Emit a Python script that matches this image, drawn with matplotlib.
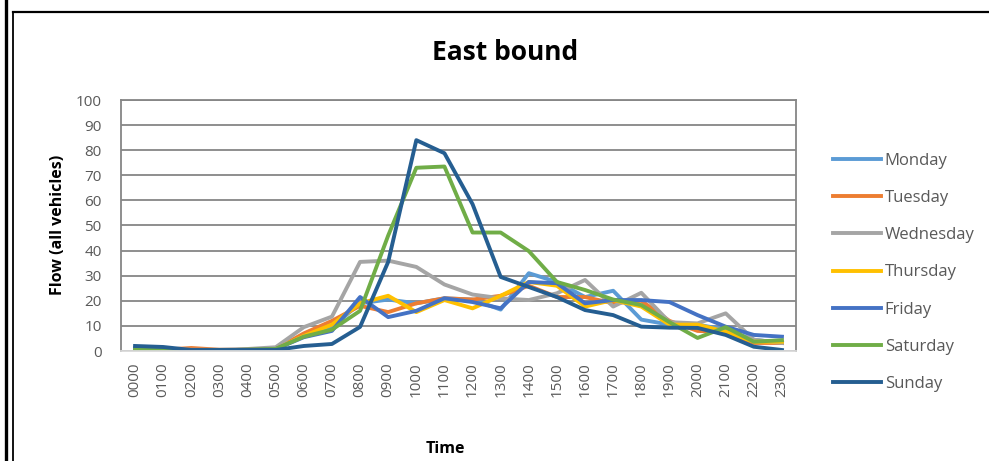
#!/usr/bin/env python3
"""East bound hourly flow by weekday."""

import matplotlib
matplotlib.use("Agg")
import matplotlib.pyplot as plt
from matplotlib.lines import Line2D

hours = ["0000", "0100", "0200", "0300", "0400", "0500", "0600", "0700",
         "0800", "0900", "1000", "1100", "1200", "1300", "1400", "1500",
         "1600", "1700", "1800", "1900", "2000", "2100", "2200", "2300"]

monday = [0.5, 0.3, 0.5, 0.3, 0.5, 0.8, 6, 9.5, 19, 20.5, 19, 21, 20.5, 16.5,
          31, 27.5, 21.5, 24, 12.5, 10.5, 10.5, 8.5, 4.5, 3.2]
tuesday = [0.5, 0.5, 1.2, 0.5, 0.5, 0.8, 7, 12, 18, 15.5, 19, 21, 20.5, 22,
           26, 21.5, 21.5, 19, 20, 12, 8, 7.5, 3.2, 3.2]
wednesday = [1, 0.8, 0.5, 0.5, 0.8, 1.5, 9.5, 13.7, 35.5, 36, 33.5, 26.5, 22.5, 21,
             20.3, 23, 28.3, 17.7, 23.2, 11.5, 11, 15, 4.5, 3.2]
thursday = [0, 0.2, 0.3, 0.3, 0.5, 0.8, 6, 10.5, 19, 22, 15.5, 20.3, 17, 22,
            27.5, 26, 17.7, 20.3, 17.7, 10.5, 10.5, 7.7, 3.7, 3.7]
friday = [1, 0.8, 0.3, 0.3, 0.5, 0.8, 5.5, 8, 21.5, 13.5, 16, 21, 19.5, 17,
          27.5, 27, 19, 20.3, 20.3, 19.5, 14.3, 9.7, 6.4, 5.7]
saturday = [0.5, 0.3, 0.2, 0.3, 0.5, 0.8, 5.7, 8.5, 16, 46, 73, 73.5, 47.2, 47.2,
            39.8, 27.5, 24.3, 20.5, 18.3, 11.5, 5.2, 9.5, 3.7, 4.3]
sunday = [2, 1.6, 0.4, 0.4, 0.4, 0.4, 2, 2.8, 9.6, 35.5, 84, 78.8, 58.5, 29.5,
          25.5, 21.5, 16.3, 14.3, 9.7, 9.3, 9.2, 6.4, 1.7, 0.4]

days = ["Monday", "Tuesday", "Wednesday", "Thursday", "Friday", "Saturday", "Sunday"]
series = [monday, tuesday, wednesday, thursday, friday, saturday, sunday]
colors = ["#5B9BD5", "#ED7D31", "#A5A5A5", "#FFC000", "#4472C4", "#70AD47", "#255E91"]

plt.rcParams["font.family"] = ["Open Sans", "DejaVu Sans"]

fig = plt.figure(figsize=(9.89, 4.61), dpi=100)
ax = fig.add_axes([121 / 989, 1 - 351 / 461, 675 / 989, 251 / 461])

x = list(range(len(hours)))
for name, values, color in zip(days, series, colors):
  ax.plot(x, values, color=color, lw=2.8, label=name, solid_joinstyle="round")

ax.set_xlim(-0.5, len(hours) - 0.5)
ax.set_ylim(0, 100)
ax.set_yticks(range(0, 101, 10))
ax.set_xticks(x)
ax.set_xticklabels(hours, rotation=90)
ax.tick_params(axis="both", length=0, labelsize=11, colors="#595959")
ax.tick_params(axis="y", pad=14)
ax.tick_params(axis="x", pad=8)
ax.grid(axis="y", color="#868686", lw=1.3)
ax.set_axisbelow(True)
for side in ["left", "top", "right"]:
  ax.spines[side].set_color("#868686")
  ax.spines[side].set_linewidth(1.3)
ax.spines["bottom"].set_color("#D9D9D9")
ax.spines["bottom"].set_linewidth(1.3)

fig.text(505 / 989, 1 - 52 / 461, "East bound", ha="center", va="center",
         fontsize=19, fontweight="bold")
fig.text(58 / 989, 1 - 225 / 461, "Flow (all vehicles)", ha="center", va="center",
         rotation=90, fontsize=11.5, fontweight="bold")
fig.text(445 / 989, 1 - 449 / 461, "Time", ha="center", va="center",
         fontsize=11.5, fontweight="bold")

fig.legend(loc="upper left", bbox_to_anchor=(818 / 989, 1 - 138 / 461),
           frameon=False, fontsize=12, handlelength=2.9, handletextpad=0.2,
           labelspacing=1.27, labelcolor="#595959")

# outer frame lines
fig.add_artist(Line2D([5.5 / 989, 5.5 / 989], [0, 1], color="black", lw=2.4))
fig.add_artist(Line2D([12.5 / 989, 12.5 / 989], [0, 1 - 12.5 / 461], color="black", lw=1.3))
fig.add_artist(Line2D([12.5 / 989, 1], [1 - 12.5 / 461, 1 - 12.5 / 461], color="black", lw=1.6))

fig.savefig("out.png", dpi=100)
